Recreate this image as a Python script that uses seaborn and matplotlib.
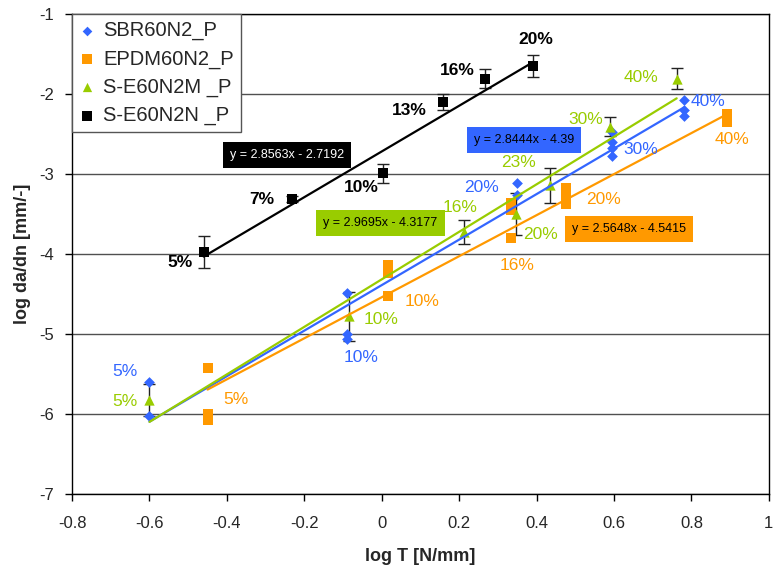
import numpy as np
import pandas as pd
import matplotlib
matplotlib.use("Agg")
import matplotlib.pyplot as plt
import seaborn as sns

# ---------------- data ----------------
sbr_x = [-0.6, -0.6, -0.09, -0.09, -0.09, 0.35, 0.35, 0.595, 0.595, 0.595, 0.595, 0.78, 0.78, 0.78]
sbr_y = [-5.6, -6.02, -4.49, -5.0, -5.06, -3.11, -3.26, -2.47, -2.6, -2.68, -2.78, -2.08, -2.2, -2.28]

epdm_x = [-0.45, -0.45, -0.45, 0.015, 0.015, 0.015, 0.335, 0.335, 0.335, 0.477, 0.477, 0.477, 0.892, 0.892]
epdm_y = [-5.42, -6.0, -6.07, -4.14, -4.24, -4.52, -3.36, -3.45, -3.8, -3.18, -3.28, -3.38, -2.25, -2.35]

sem_x = [-0.6, -0.085, 0.213, 0.346, 0.436, 0.59, 0.762]
sem_y = [-5.83, -4.78, -3.73, -3.5, -3.14, -2.41, -1.81]
sem_err = [0.2, 0.31, 0.15, 0.26, 0.22, 0.12, 0.13]

sen_x = [-0.46, -0.233, 0.003, 0.159, 0.267, 0.392]
sen_y = [-3.98, -3.31, -2.99, -2.1, -1.81, -1.65]
sen_err = [0.2, 0.04, 0.12, 0.1, 0.12, 0.14]

series_names = ["SBR60N2_P", "EPDM60N2_P", "S-E60N2M _P", "S-E60N2N _P"]
slopes = [2.8444, 2.5648, 2.9695, 2.8563]
intercepts = [-4.39, -4.5415, -4.3177, -2.7192]
equations = ["y = 2.8444x - 4.39", "y = 2.5648x - 4.5415",
             "y = 2.9695x - 4.3177", "y = 2.8563x - 2.7192"]

sbr_labels = ["5%", "10%", "20%", "30%", "40%"]
sbr_lab_x = [-0.664, -0.054, 0.259, 0.669, 0.844]
sbr_lab_y = [-5.475, -5.29, -3.175, -2.70, -2.10]

epdm_labels = ["5%", "10%", "16%", "20%", "40%"]
epdm_lab_x = [-0.377, 0.105, 0.349, 0.574, 0.905]
epdm_lab_y = [-5.825, -4.59, -4.15, -3.325, -2.575]

sem_labels = ["5%", "10%", "16%", "20%", "23%", "30%", "40%"]
sem_lab_x = [-0.664, -0.003, 0.203, 0.41, 0.354, 0.528, 0.669]
sem_lab_y = [-5.84, -4.825, -3.425, -3.76, -2.86, -2.325, -1.80]

sen_labels = ["5%", "7%", "10%", "13%", "16%", "20%"]
sen_lab_x = [-0.521, -0.310, -0.054, 0.072, 0.195, 0.397]
sen_lab_y = [-4.11, -3.325, -3.175, -2.21, -1.71, -1.325]

x_ticks = [-0.8, -0.6, -0.4, -0.2, 0.0, 0.2, 0.4, 0.6, 0.8, 1.0]
x_tick_labels = ["-0.8", "-0.6", "-0.4", "-0.2", "0", "0.2", "0.4", "0.6", "0.8", "1"]
y_ticks = [-7, -6, -5, -4, -3, -2, -1]

# ---------------- style ----------------
sns.set_theme(style="white")
plt.rcParams['font.family'] = ['Liberation Sans', 'DejaVu Sans']

blue = "#3366FF"
orange = "#FF9900"
green = "#99CC00"
black = "#000000"
colors = [blue, orange, green, black]
markers = ["D", "s", "^", "s"]
msizes = [30, 55, 55, 60]

fig = plt.figure(figsize=(7.75, 5.71), dpi=100)
ax = fig.add_axes([0.093, 0.135, 0.899, 0.8406])

xs = [sbr_x, epdm_x, sem_x, sen_x]
ys = [sbr_y, epdm_y, sem_y, sen_y]

# gridlines
ax.set_axisbelow(True)
ax.yaxis.grid(True, color="#505050", lw=1)
ax.xaxis.grid(False)

# error bars
ax.errorbar(sem_x, sem_y, yerr=sem_err, fmt="none", ecolor="#222222",
            elinewidth=1, capsize=4, capthick=1, zorder=2)
ax.errorbar(sen_x, sen_y, yerr=sen_err, fmt="none", ecolor="#222222",
            elinewidth=1, capsize=4, capthick=1, zorder=2)

# markers
for x, y, c, m, s, name in zip(xs, ys, colors, markers, msizes, series_names):
    df = pd.DataFrame({"x": x, "y": y})
    sns.scatterplot(data=df, x="x", y="y", marker=m, color=c, s=s,
                    linewidth=0, ax=ax, label=name, zorder=3)

# trendlines
for x, c, k, b in zip(xs, colors, slopes, intercepts):
    xl = np.array([min(x), max(x)])
    ax.plot(xl, k * xl + b, color=c, lw=1.6, zorder=4)

# percentage labels
label_sets = [
    (sbr_labels, sbr_lab_x, sbr_lab_y, blue, "normal"),
    (epdm_labels, epdm_lab_x, epdm_lab_y, orange, "normal"),
    (sem_labels, sem_lab_x, sem_lab_y, green, "normal"),
    (sen_labels, sen_lab_x, sen_lab_y, black, "bold"),
]
for labs, lx, ly, c, w in label_sets:
    for t, px, py in zip(labs, lx, ly):
        ax.text(px, py, t, color=c, fontsize=12.5, ha="center", va="center",
                fontweight=w, zorder=5)

# equation boxes
eq_pos = [(0.367, -2.575), (0.638, -3.6875), (-0.003, -3.6125), (-0.244, -2.7625)]
eq_text_colors = ["black", "black", "black", "white"]
for (ex, ey), t, c, tc in zip(eq_pos, equations, colors, eq_text_colors):
    ax.text(ex, ey, t, color=tc, fontsize=9, ha="center", va="center", zorder=6,
            bbox=dict(facecolor=c, edgecolor="none", pad=5))

ax.set_xlim(-0.8, 1.0)
ax.set_ylim(-7, -1)
ax.set_xticks(x_ticks)
ax.set_xticklabels(x_tick_labels)
ax.set_yticks(y_ticks)
ax.set_yticklabels([str(v) for v in y_ticks])
ax.tick_params(axis="both", direction="out", length=5, width=1, color="black",
               labelsize=12, bottom=True, left=True)
ax.tick_params(axis="x", pad=11)
ax.tick_params(axis="y", pad=8)
for sp in ax.spines.values():
    sp.set_color("black")
    sp.set_linewidth(1)

ax.set_xlabel("log T [N/mm]", fontsize=13, fontweight="bold", labelpad=12)
ax.set_ylabel("log da/dn [mm/-]", fontsize=13, fontweight="bold", labelpad=6)

leg = ax.legend(loc="upper left", bbox_to_anchor=(0.0, 1.0), fontsize=14.5,
                frameon=True, fancybox=False, edgecolor="#555555",
                framealpha=1, borderaxespad=0, handletextpad=0.4,
                handlelength=0.8, labelspacing=0.45, markerscale=0.9,
                borderpad=0.35)
leg.get_frame().set_linewidth(1)

fig.savefig("out.png", dpi=100, facecolor="white")
